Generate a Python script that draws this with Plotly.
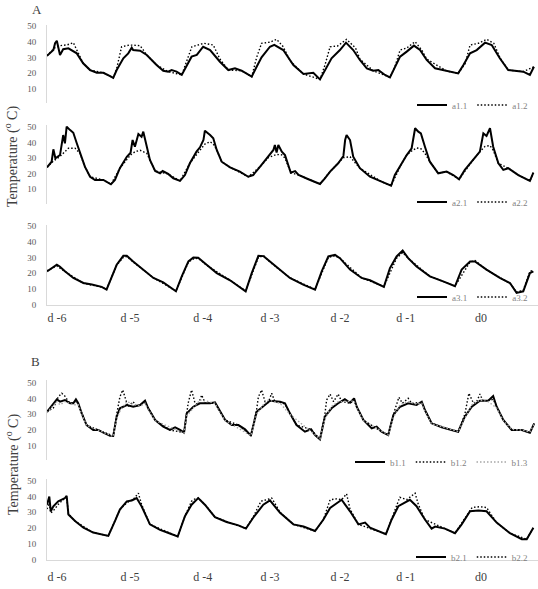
import plotly.graph_objects as go

# (hour from start of record, temperature)
a1_1 = [(0, 31), (2.2, 34.7), (2.8, 39), (3.4, 40.6), (4.5, 31.6), (5.6, 35.2), (7.4, 35.8), (10.3, 32.6),
        (12.5, 26.3), (14.9, 22), (17.2, 20.3), (19.5, 20.3), (21.8, 18.2), (22.9, 17.1), (24.1, 22),
        (26.4, 29.5), (28.1, 32.6), (29.3, 36.2), (29.8, 34.7), (32.2, 34.3), (34.5, 31.6), (37.9, 25.2),
        (40.2, 21.6), (41.9, 21), (43.1, 22), (44.8, 21), (46.6, 18.9), (48.3, 25.2), (50.0, 30.5),
        (51.8, 31.6), (54.0, 36.8), (56.4, 34.7), (59.8, 27.3), (62.7, 22), (65.0, 23.1), (67.3, 21.6),
        (70.8, 17.8), (72.5, 24.1), (74.2, 30.1), (77.1, 36.8), (78.6, 38), (81.7, 34.7), (85.2, 25.2),
        (88.7, 19.5), (90.9, 20.3), (92.1, 20.3), (94.4, 16.1), (96.1, 22), (98.4, 29.5), (101.3, 34.7),
        (103.4, 39.4), (105.9, 34.7), (108.2, 28.4), (110.6, 23.1), (112.8, 21.6), (114.6, 22),
        (116.9, 18.9), (118.6, 17.4), (120.3, 24.1), (122.1, 30.5), (124.4, 33.7), (126.9, 37.5),
        (129.0, 34.7), (131.3, 28.4), (134.2, 23.1), (138.2, 21.4), (142.2, 19.9), (144.0, 25.2),
        (146.3, 32.6), (148.6, 34.7), (151.5, 39.4), (153.8, 37.9), (156.6, 29.5), (159.5, 22),
        (164.7, 21), (167.0, 18.9), (168.4, 24.1)]
a1_2 = [(0, 31), (2.5, 36), (4.5, 37.5), (7.0, 38), (9.1, 39.4), (10.8, 32.6), (12.5, 26.3), (14.9, 22),
        (19.5, 20.3), (22.9, 17.1), (24.1, 23), (25.8, 36.8), (28.6, 37.9), (32.2, 37.5), (33.4, 34.7),
        (34.5, 31.6), (37.9, 25.2), (41.9, 21), (46.6, 18.9), (48.3, 28), (50.1, 36.8), (54.3, 39),
        (57.5, 37.9), (59.8, 29), (62.7, 22), (67.3, 21.6), (70.8, 17.8), (72.5, 30), (74.2, 39),
        (77.1, 39.7), (79.4, 41.5), (81.7, 36.8), (84.0, 28), (88.7, 19.5), (94.4, 16.1), (96.1, 25),
        (97.9, 36.8), (100.5, 37.3), (103.6, 41.5), (106.7, 36), (108.2, 29), (112.8, 21.6),
        (118.6, 17.4), (120.3, 24), (122.1, 34.7), (124.4, 36), (127.3, 40), (129.6, 34.7), (131.3, 29),
        (138.2, 21.4), (142.2, 19.9), (144.6, 26), (146.3, 37.9), (149.2, 39), (152.0, 41.5),
        (154.5, 39), (156.6, 30), (159.5, 22), (164.7, 21), (168.4, 24.1)]

a2_1 = [(0, 24), (1.6, 27.6), (2.2, 35.6), (2.9, 29.8), (4.5, 31.9), (5.6, 44.8), (6.2, 39.5), (6.8, 50.2),
        (8.0, 48), (9.1, 46.3), (10.3, 39.5), (11.4, 34.1), (13.1, 24.4), (14.9, 17.9), (16.6, 15.8),
        (19.5, 15.8), (20.6, 14.7), (22.1, 13), (23.5, 15.8), (25.2, 23.4), (27.6, 30.8), (28.9, 33.4),
        (29.6, 41.6), (30.4, 37.3), (31.6, 45.5), (32.7, 43.7), (33.3, 47), (34.5, 37.3), (35.6, 28.7),
        (37.4, 21.6), (39.1, 20.1), (40.0, 21.6), (41.9, 19.7), (43.7, 16.9), (46.0, 15.2), (47.7, 19),
        (49.4, 26.6), (51.7, 34.1), (52.9, 36.9), (54.1, 41.6), (54.6, 47.6), (56.4, 44.8), (57.5, 42.7),
        (58.7, 35.2), (60.4, 27.6), (63.3, 24), (66.7, 21.2), (69.6, 17.9), (71.3, 19), (73.7, 24.4),
        (76.5, 30.8), (78.3, 35.2), (78.8, 38.4), (79.4, 33.5), (80.0, 38.4), (81.2, 34.1), (82.3, 31.9),
        (84.3, 20.5), (85.8, 21.5), (87.0, 19), (90.4, 16.3), (94.4, 13.2), (96.1, 16.9), (97.9, 21.2),
        (100.7, 26.6), (102.5, 31.3), (103.1, 41.6), (103.6, 44.8), (104.8, 41.6), (105.9, 30.8),
        (108.2, 23.4), (111.7, 17.9), (115.7, 14.7), (119.0, 12.1), (120.3, 19), (122.7, 26.6),
        (124.4, 31.9), (126.1, 36.3), (127.3, 49.2), (128.4, 47), (129.3, 45.9), (130.7, 37.3),
        (132.4, 27.6), (135.3, 20.1), (138.2, 21.2), (140.5, 19), (142.5, 16.3), (144.5, 22.3),
        (146.9, 27.6), (149.7, 34.1), (150.9, 45.9), (152.0, 44.2), (153.2, 49.2), (154.3, 37.3),
        (156.1, 26.6), (157.8, 22.3), (159.5, 23.4), (163.0, 19), (167.0, 15.2), (168.2, 20.5)]
a2_2 = [(0, 24), (2.2, 28), (4.5, 31), (6.2, 34), (7.4, 36.3), (9.7, 36.3), (11.4, 33), (13.1, 24.4),
        (14.9, 17.9), (19.5, 15.8), (22.1, 13), (25.2, 23.4), (28.9, 32), (30.4, 34), (32.2, 35),
        (34.5, 33), (35.6, 28.7), (37.4, 21.6), (41.9, 19.7), (46.0, 15.2), (49.4, 26.6), (52.9, 35),
        (54.6, 39), (56.4, 40.5), (57.5, 39), (58.7, 35.2), (60.4, 27.6), (63.3, 24), (69.6, 17.9),
        (73.7, 24.4), (76.5, 30.2), (79.4, 32.3), (81.2, 32), (82.3, 30), (84.3, 20.5), (87.0, 19),
        (94.4, 13.2), (97.9, 21.2), (100.7, 26.6), (102.5, 30.2), (104.8, 30.8), (105.9, 28.5),
        (108.2, 23.4), (115.7, 14.7), (119.0, 12.1), (122.7, 26.6), (124.4, 31.9), (126.1, 34.5),
        (127.8, 36.5), (129.3, 36), (130.7, 33), (132.4, 27.6), (135.3, 20.1), (138.2, 21.2),
        (142.5, 16.3), (146.9, 27.6), (149.7, 34.1), (151.5, 37.5), (153.2, 38), (154.3, 35),
        (156.1, 26.6), (159.5, 23.4), (163.0, 19), (167.0, 15.2), (168.2, 20.5)]

a3_1 = [(0, 21.1), (2.2, 24.2), (3.4, 25.3), (4.4, 24.2), (6.2, 21.1), (9.1, 16.9), (12.6, 13.7),
        (15.5, 12.7), (18.9, 11.2), (20.6, 9.5), (22.4, 17.9), (24.1, 25.3), (26.4, 31), (27.6, 31),
        (29.8, 27.4), (33.3, 22.2), (36.8, 16.9), (40.2, 14.1), (44.6, 8.4), (46.6, 17.9), (48.9, 27.4),
        (50.6, 29.9), (52.3, 29.7), (55.2, 25.3), (58.7, 20), (63.3, 15.4), (68.7, 8.4), (70.8, 20),
        (73.1, 31), (74.9, 30.8), (77.1, 27.4), (80.6, 22.2), (84.0, 16.9), (88.6, 12.7), (92.7, 9.5),
        (95.0, 21.1), (97.3, 30.6), (99.6, 31.6), (101.3, 29.5), (104.8, 22.2), (108.8, 16.9),
        (111.7, 15.4), (116.5, 11.2), (118.6, 23.2), (120.9, 30.6), (123.0, 34.4), (124.9, 29.5),
        (127.8, 24.2), (132.4, 17.9), (137.0, 14.7), (141.1, 11.6), (143.4, 22.2), (146.3, 27.4),
        (148.0, 27.4), (152.0, 22.2), (156.6, 16.9), (160.1, 13.7), (162.4, 7.4), (164.7, 8.4),
        (167.0, 20), (168.2, 21.1)]
a3_2 = [(0, 21.5), (3.4, 24.5), (6.2, 21), (12.6, 13.5), (18.9, 11), (20.6, 9.8), (24.1, 25), (26.4, 30),
        (27.6, 30.5), (29.8, 27), (36.8, 17), (44.6, 8.6), (48.9, 27), (50.6, 29), (52.3, 29.5),
        (55.2, 25), (63.3, 15.5), (68.7, 8.6), (73.1, 30), (74.9, 31), (77.1, 27), (84.0, 17),
        (92.7, 9.7), (97.3, 30), (99.6, 31), (101.3, 29.5), (108.8, 17), (116.5, 11.4), (120.9, 29.5),
        (123.0, 33), (124.9, 29.5), (132.4, 18), (141.1, 11.8), (146.3, 27), (148.0, 28), (152.0, 22),
        (160.1, 13.5), (162.4, 8), (164.7, 9), (167.0, 21), (168.2, 22)]

b1_1 = [(0, 31.6), (2.2, 37), (3.4, 39.5), (4.5, 38), (6.2, 39), (8.0, 37), (9.1, 37), (10.0, 39.5),
        (10.8, 37), (12.0, 30.6), (13.7, 23.2), (16.0, 20.1), (17.7, 20.1), (19.5, 18.4), (21.8, 16.5),
        (22.9, 16.3), (24.1, 28.5), (25.2, 33.8), (27.6, 35.9), (29.8, 34.8), (32.2, 35.9), (33.9, 38.6),
        (35.0, 33.8), (37.4, 26.4), (40.2, 22.2), (42.5, 20.1), (44.3, 21.8), (46.0, 20.1), (47.4, 18.4),
        (48.3, 30.6), (50.6, 34.8), (52.9, 37), (56.4, 37), (58.1, 37.6), (59.2, 33.8), (61.6, 26.4),
        (63.9, 23.2), (66.2, 23.2), (68.5, 20.5), (70.5, 16.5), (72.5, 31.6), (74.8, 34.8), (77.1, 38.6),
        (80.6, 38), (82.3, 37), (84.0, 30.6), (86.3, 23.2), (89.2, 19), (91.3, 20.5), (92.7, 16.9),
        (94.4, 14.2), (96.1, 28.5), (98.4, 33.8), (100.7, 37), (103.0, 39.5), (104.8, 37.3),
        (106.2, 40.1), (107.1, 34.8), (109.4, 26.4), (112.3, 21.1), (114.0, 22.2), (115.7, 19),
        (118.0, 16.9), (119.8, 29.6), (122.1, 34.8), (124.9, 37), (127.8, 35.9), (129.6, 38),
        (130.7, 32.7), (133.0, 24.3), (136.5, 21.8), (139.9, 20.1), (142.2, 19), (144.5, 28.5),
        (146.9, 34.8), (149.7, 38.6), (152.6, 38.6), (154.3, 41.6), (155.5, 34.8), (157.8, 26.4),
        (160.7, 20.1), (164.2, 20.1), (167.0, 18.4), (168.5, 24.3)]
b1_2 = [(0, 31.6), (2.2, 34), (3.9, 41), (5.1, 43.3), (6.2, 41.5), (7.4, 38), (9.1, 37), (10.0, 38.5),
        (10.8, 36.5), (12.0, 30.6), (13.7, 23.2), (17.7, 20.1), (22.9, 16.3), (24.1, 30), (25.2, 41),
        (26.2, 45.4), (27.0, 41), (28.0, 34.8), (29.8, 38), (31.0, 34.8), (33.9, 37.5), (35.0, 33.8),
        (37.4, 26.4), (42.5, 20.1), (47.4, 18.4), (48.3, 30), (48.8, 37), (50.0, 45.4), (51.2, 37),
        (52.3, 36), (53.5, 42.2), (54.7, 37), (58.1, 37), (59.2, 33.8), (61.6, 26.4), (66.2, 23.2),
        (70.5, 16.5), (72.5, 33), (73.1, 41), (74.2, 45.4), (75.4, 38), (76.5, 37.5), (77.7, 43.3),
        (78.8, 38), (80.6, 37.5), (82.3, 36.5), (84.0, 30.6), (86.3, 23.2), (91.3, 20.5), (94.4, 14.2),
        (96.1, 30), (96.7, 39), (97.9, 42.8), (99.1, 38), (100.7, 42.8), (101.9, 38), (104.8, 37),
        (106.2, 39), (107.1, 34.8), (109.4, 26.4), (115.7, 19), (118.0, 16.9), (119.8, 30),
        (120.9, 35.9), (121.7, 40.8), (122.9, 37), (124.9, 40.1), (126.1, 37), (129.6, 37.5),
        (130.7, 32.7), (133.0, 24.3), (139.9, 20.1), (142.2, 19), (144.5, 30), (145.1, 37),
        (145.9, 43.3), (147.5, 37), (148.6, 38), (149.7, 42.8), (150.9, 38), (154.3, 39.5),
        (155.5, 34.8), (157.8, 26.4), (160.7, 20.1), (164.2, 20.1), (167.0, 18.6), (168.5, 24.3)]
b1_3 = [(0, 31), (2.2, 36), (3.4, 38), (4.5, 36), (6.2, 38), (9.1, 36), (10.8, 36), (12.0, 30), (13.7, 23),
        (17.7, 20), (22.9, 16), (24.1, 27), (25.2, 32), (27.6, 38), (29.8, 36.5), (32.2, 35), (33.9, 37),
        (35.0, 33), (37.4, 26), (47.4, 18), (48.3, 29), (50.6, 34), (52.9, 39), (54.7, 38.5), (58.1, 37),
        (59.2, 33), (61.6, 26), (70.5, 16.5), (72.5, 30), (74.8, 36), (76.5, 39), (80.6, 37), (84.0, 30),
        (94.4, 14.5), (96.1, 27), (98.4, 35), (100.7, 38), (103.0, 38), (106.2, 38.5), (107.1, 34),
        (109.4, 26), (118.0, 17), (119.8, 28), (122.1, 36), (124.9, 38), (127.8, 36.5), (129.6, 37),
        (130.7, 32), (133.0, 24), (142.2, 19), (144.5, 27), (146.9, 36), (149.7, 39), (152.6, 38),
        (155.5, 34), (157.8, 26), (160.7, 20.5), (164.2, 20), (167.0, 18.8), (168.5, 24)]

b2_1 = [(0, 34.8), (0.8, 40), (1.3, 30.6), (2.2, 33.8), (3.9, 36.9), (6.2, 39), (6.8, 40.4), (7.4, 28.6),
        (9.7, 24.4), (12.6, 20.2), (16.0, 17.1), (18.3, 16.1), (21.2, 15), (23.5, 24.4), (25.2, 31.7),
        (27.6, 36.9), (29.3, 37.5), (31.0, 39), (32.7, 33.8), (35.6, 22.3), (39.1, 18.8), (42.5, 16.5),
        (45.2, 14.6), (47.7, 27.5), (50.0, 34.8), (52.3, 39), (54.6, 34.8), (58.1, 26.9), (62.1, 23.8),
        (66.2, 21.7), (68.8, 19.6), (71.3, 26.5), (74.8, 34.8), (77.1, 37.5), (80.6, 29.6), (85.2, 22.3),
        (88.7, 20.9), (92.7, 18.1), (95.6, 25.4), (97.9, 32.7), (100.2, 35.9), (101.9, 37.9),
        (103.1, 34.8), (104.8, 30.6), (107.7, 22.3), (110.0, 23.4), (111.7, 20.2), (117.2, 16.1),
        (119.2, 25.4), (121.5, 33.8), (125.5, 37.9), (127.8, 33.8), (130.7, 25.4), (133.0, 19.6),
        (134.2, 20.9), (137.6, 19.6), (141.1, 16.7), (143.4, 22.3), (146.3, 30.6), (149.2, 31.1),
        (152.0, 30.6), (155.5, 23.4), (160.1, 16.7), (164.2, 12.9), (165.9, 12.9), (167.6, 18.8),
        (168.2, 20.2)]
b2_2 = [(0, 32), (0.8, 36), (1.3, 29.5), (2.2, 31), (3.9, 35), (6.2, 38.5), (6.8, 40), (7.4, 29),
        (9.7, 24.4), (16.0, 17.1), (21.2, 15), (25.2, 31.7), (27.6, 36), (30.0, 38.5), (31.6, 42.1),
        (32.7, 35), (35.6, 22.3), (45.2, 14.6), (47.7, 27.5), (50.0, 37), (51.2, 38.5), (52.3, 39),
        (54.6, 35), (58.1, 26.9), (68.8, 19.6), (71.3, 27), (74.0, 37), (76.0, 38), (77.7, 39),
        (80.6, 30), (85.2, 22.3), (92.7, 18.1), (95.6, 25.4), (97.9, 37.9), (100.2, 38.5), (101.9, 38),
        (103.6, 41.7), (104.8, 32), (107.7, 22.3), (117.2, 16.1), (119.2, 26), (122.0, 39.5),
        (124.4, 38), (127.3, 42.1), (128.4, 35), (130.7, 25.4), (141.1, 16.7), (143.4, 23), (146.3, 31),
        (147.0, 33), (149.7, 33.5), (152.0, 33), (155.5, 23.4), (160.1, 16.7), (165.9, 12.9),
        (168.2, 20.2)]

day_labels = ["d -6", "d -5", "d -4", "d -3", "d -2", "d -1", "d0"]

W, H = 538, 589
SERIF = "Liberation Serif, Times New Roman, serif"


def px(x):
    return x / W


def py(y):
    return 1 - y / H


solid = dict(color="black", width=2)
dotted = dict(color="black", width=1.4, dash="1.5px,2px")
light = dict(color="#a6a6a6", width=1.4, dash="1.5px,2px")

# panel: axis suffix, legend id, series
panels = [
    ("", "legend", [("a1.1", a1_1, solid), ("a1.2", a1_2, dotted)]),
    ("2", "legend2", [("a2.1", a2_1, solid), ("a2.2", a2_2, dotted)]),
    ("3", "legend3", [("a3.1", a3_1, solid), ("a3.2", a3_2, dotted)]),
    ("4", "legend4", [("b1.1", b1_1, solid), ("b1.2", b1_2, dotted), ("b1.3", b1_3, light)]),
    ("5", "legend5", [("b2.1", b2_1, solid), ("b2.2", b2_2, dotted)]),
]

fig = go.Figure()
for suf, leg, series in panels:
    for name, pts, ln in series:
        hrs = [p[0] for p in pts]
        temps = [p[1] for p in pts]
        fig.add_trace(go.Scatter(x=hrs, y=temps, mode="lines", name=name, line=ln,
                                 xaxis="x" + suf, yaxis="y" + suf, legend=leg))

# pixel geometry of each panel: (top, bottom, y range, tick values, x labels, label standoff, legend y)
geom = [
    (25, 103, [1.1, 50.6], [10, 20, 30, 40, 50], False, 0, 105),
    (125, 204, [0.3, 51.3], [10, 20, 30, 40, 50], False, 0, 202),
    (225, 304.5, [0, 50.6], [0, 10, 20, 30, 40, 50], True, 2, 297),
    (380, 460, [1.1, 51.7], [10, 20, 30, 40, 50], False, 0, 462),
    (479, 559.5, [0, 51.1], [0, 10, 20, 30, 40, 50], True, 6, 557),
]
tick_hours = [3.5, 28.7, 53.9, 77.1, 101.3, 124.1, 150.1]

layout = dict(width=W, height=H, margin=dict(l=0, r=0, t=0, b=0, autoexpand=False),
              paper_bgcolor="white", plot_bgcolor="white",
              font=dict(family=SERIF, color="#404040"))
for i, (top, bot, yr, tv, xlab, stand, ly) in enumerate(geom):
    suf = "" if i == 0 else str(i + 1)
    layout["xaxis" + suf] = dict(
        domain=[px(47), 1], range=[0, 169.8], anchor="y" + suf, automargin=False,
        showgrid=False, zeroline=False, showline=xlab, linecolor="#d9d9d9", linewidth=1,
        ticks="", showticklabels=xlab, tickvals=tick_hours, ticktext=day_labels,
        tickfont=dict(size=12, color="#404040", family=SERIF),
        ticklabelstandoff=stand)
    layout["yaxis" + suf] = dict(
        domain=[py(bot), py(top)], range=yr, anchor="x" + suf, automargin=False,
        showgrid=False, zeroline=False, showline=True, linecolor="#d9d9d9", linewidth=1,
        ticks="", tickvals=tv, tickfont=dict(size=9, color="#595959", family=SERIF),
        ticklabelstandoff=8)
    leg = "legend" if i == 0 else "legend" + str(i + 1)
    layout[leg] = dict(orientation="h", x=px(533), xanchor="right", y=py(ly), yanchor="middle",
                       bgcolor="rgba(0,0,0,0)", font=dict(size=9, color="#7f7f7f", family=SERIF),
                       itemwidth=30, tracegroupgap=0)

fig.update_layout(**layout)

fig.add_annotation(text="A", x=px(37), y=py(9), xref="paper", yref="paper", showarrow=False,
                   xanchor="center", yanchor="middle", font=dict(size=13, color="#404040", family=SERIF))
fig.add_annotation(text="B", x=px(35), y=py(361), xref="paper", yref="paper", showarrow=False,
                   xanchor="center", yanchor="middle", font=dict(size=13, color="#404040", family=SERIF))
for yc in [157, 465]:
    fig.add_annotation(text="Temperature (<sup>o</sup> C)", x=px(12), y=py(yc), xref="paper", yref="paper",
                       showarrow=False, textangle=-90, xanchor="center", yanchor="middle",
                       font=dict(size=14, color="#404040", family=SERIF))

# the page body has a default 8px margin; drop it so the figure fills the window
fig.write_html("out.html", config={"displayModeBar": False},
               post_script="document.body.style.margin='0';")
